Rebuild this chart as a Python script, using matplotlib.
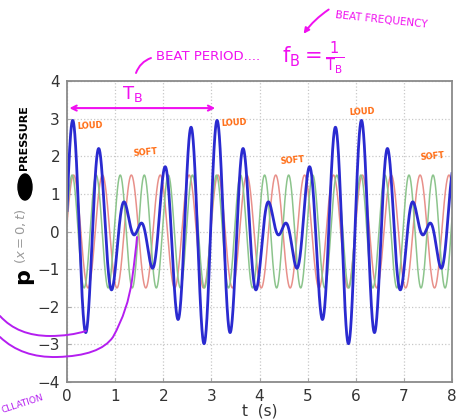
import numpy as np
import matplotlib
matplotlib.use("Agg")
import matplotlib.pyplot as plt
from matplotlib.path import Path
from matplotlib.patches import PathPatch, Ellipse, FancyArrowPatch

# Two pure tones of equal amplitude and their superposition (beats)
amplitude = 1.5                 # pressure amplitude of each tone
freq_red = 5.0 / 3.0            # Hz
freq_green = 2.0                # Hz
peak_red = 0.137                # time of a crest of the red tone (s)
peak_green = 0.106              # time of a crest of the green tone (s)
t_range = (0.0, 8.0)

xticks = [0, 1, 2, 3, 4, 5, 6, 7, 8]
yticks = [-4, -3, -2, -1, 0, 1, 2, 3, 4]

loud_labels = [(0.48, 2.80), (3.47, 2.88), (6.12, 3.18)]
soft_labels = [(1.63, 2.09), (4.69, 1.90), (7.60, 2.00)]

t = np.linspace(t_range[0], t_range[1], 3000)
p_red = amplitude * np.cos(2 * np.pi * freq_red * (t - peak_red))
p_green = amplitude * np.cos(2 * np.pi * freq_green * (t - peak_green))
p_sum = p_red + p_green

W, H = 474, 419
fig = plt.figure(figsize=(W / 100, H / 100), dpi=100)
ax = fig.add_axes([67 / W, 1 - 382 / H, (452 - 67) / W, (382 - 81) / H])

ax.plot(t, p_red, color="#e8908a", lw=1.1)
ax.plot(t, p_green, color="#8cc48c", lw=1.1)
ax.plot(t, p_sum, color="#2a2ad0", lw=2.0)

ax.set_xlim(*t_range)
ax.set_ylim(-4, 4)
ax.set_xticks(xticks)
ax.set_yticks(yticks)
ax.grid(True, color="#c8c8c8", ls=":", lw=0.9)
for s in ax.spines.values():
    s.set_color("#8a8a8a")
    s.set_linewidth(1.3)
ax.tick_params(direction="in", length=3, color="#aaaaaa", labelsize=11,
               labelcolor="#333333", pad=5)
ax.set_xlabel("t  (s)", fontsize=11, color="#333333", labelpad=0)

# orange labels on the beats
orange = "#ff6a10"
for (x, y) in loud_labels:
    ax.text(x, y, "LOUD", color=orange, fontsize=6, fontweight="bold",
            ha="center", va="center", rotation=3)
for (x, y) in soft_labels:
    ax.text(x, y, "SOFT", color=orange, fontsize=6, fontweight="bold",
            ha="center", va="center", rotation=5)

# y-axis label: printed p(x=0,t) with hand-written additions
def fx(px):
    return px / W

def fy(py):
    return 1 - py / H

fig.text(fx(21), fy(236), r"$(x=0,t)$", rotation=90, color="#9a9a9a",
         fontsize=9.5, ha="center", va="center")
fig.text(fx(27), fy(278), r"$\mathbf{p}$", rotation=90, color="black",
         fontsize=16, ha="center", va="center")
fig.patches.append(Ellipse((fx(25), fy(187)), 14 / W, 26 / H, color="black",
                           transform=fig.transFigure, figure=fig))
fig.text(fx(24), fy(138), "PRESSURE", rotation=90, color="black",
         fontsize=8, fontweight="bold", ha="center", va="center")

# magenta notes above the plot
mag = "#f010f0"
ax.annotate("", xy=(0.05, 3.28), xytext=(3.08, 3.28),
            arrowprops=dict(arrowstyle="<->", color=mag, lw=1.5,
                            mutation_scale=9, shrinkA=0, shrinkB=0))
fig.text(fx(132), fy(94), r"T$_\mathrm{B}$", color=mag, fontsize=13,
         ha="center", va="center")
fig.text(fx(208), fy(56), "BEAT PERIOD....", color=mag, fontsize=9.5,
         ha="center", va="center")
fig.text(fx(313), fy(58), r"$\mathrm{f}_\mathrm{B} = \frac{1}{\mathrm{T}_\mathrm{B}}$",
         color=mag, fontsize=15, ha="center", va="center")
fig.text(fx(381), fy(20), "BEAT FREQUENCY", color=mag, fontsize=7.5,
         ha="center", va="center", rotation=-6)

def stroke(points, color, lw):
    pts = [(fx(x), fy(y)) for x, y in points]
    codes = [Path.MOVETO] + [Path.CURVE3] * (len(pts) - 1)
    patch = PathPatch(Path(pts, codes), fill=False, edgecolor=color, lw=lw,
                      transform=fig.transFigure, capstyle="round")
    fig.patches.append(patch)

stroke([(136, 73), (140, 62), (151, 58)], mag, 1.4)
fig.patches.append(FancyArrowPatch((fx(331), fy(8)), (fx(302), fy(36)),
                                   transform=fig.transFigure,
                                   connectionstyle="arc3,rad=0.1",
                                   arrowstyle="-|>", mutation_scale=8,
                                   color=mag, lw=1.4))

# purple strokes pointing at the trough features
purple = "#b41ef0"
stroke([(0, 316), (18, 336), (50, 336), (70, 336), (86, 331)], purple, 1.4)
stroke([(0, 337), (22, 358), (57, 357), (100, 356), (113, 337),
        (128, 310), (132, 280), (136, 250), (137, 237)], purple, 1.4)
fig.text(fx(22), fy(404), "CLLATION", color=purple, fontsize=6.5,
         ha="center", va="center", rotation=18)

fig.savefig("out.png", dpi=100)
